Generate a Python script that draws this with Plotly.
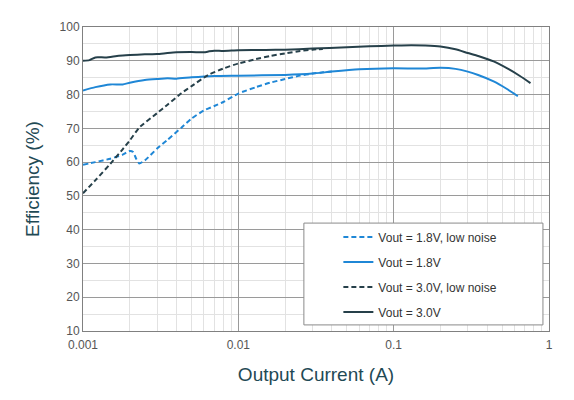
import plotly.graph_objects as go

# Efficiency vs output current
I_30 = [0.001, 0.0011, 0.0012, 0.0014, 0.0017, 0.002, 0.0025, 0.003, 0.0035, 0.004, 0.005,
        0.006, 0.0065, 0.007, 0.008, 0.01, 0.015, 0.02, 0.03, 0.05, 0.07, 0.1, 0.13, 0.16,
        0.2, 0.25, 0.3, 0.35, 0.44, 0.55, 0.65, 0.76]
EFF_30 = [90.0, 90.2, 91.0, 91.0, 91.5, 91.7, 91.9, 92.0, 92.3, 92.5, 92.6,
          92.5, 92.8, 93.0, 92.9, 93.1, 93.2, 93.3, 93.6, 94.0, 94.3, 94.5, 94.6, 94.5,
          94.2, 93.4, 92.3, 91.4, 89.8, 87.5, 85.5, 83.4]

I_18 = [0.001, 0.0012, 0.0015, 0.0018, 0.002, 0.0025, 0.003, 0.0035, 0.004, 0.005, 0.007,
        0.01, 0.02, 0.03, 0.04, 0.06, 0.1, 0.15, 0.2, 0.25, 0.3, 0.35, 0.44, 0.53, 0.63]
EFF_18 = [81.2, 82.2, 83.0, 83.0, 83.5, 84.3, 84.6, 84.8, 84.7, 85.1, 85.5,
          85.6, 85.8, 86.2, 86.8, 87.5, 87.8, 87.7, 87.9, 87.6, 86.8, 85.8, 83.9, 81.8, 79.5]

I_18_LN = [0.001, 0.0012, 0.0015, 0.0018, 0.002, 0.0021, 0.0022, 0.0023, 0.0025, 0.003,
           0.0035, 0.0043, 0.005, 0.006, 0.007, 0.008, 0.01, 0.013, 0.016, 0.02, 0.025,
           0.03, 0.035, 0.04]
EFF_18_LN = [59.2, 60.0, 61.0, 62.2, 63.3, 63.0, 61.0, 59.6, 60.5, 64.0,
             66.6, 70.2, 72.9, 75.3, 76.6, 77.8, 80.3, 82.2, 83.5, 84.6, 85.6,
             86.2, 86.6, 86.8]

I_30_LN = [0.001, 0.0012, 0.0015, 0.0018, 0.002, 0.0023, 0.003, 0.0035, 0.0043, 0.005,
           0.0064, 0.008, 0.01, 0.013, 0.016, 0.02, 0.025, 0.03, 0.035]
EFF_30_LN = [50.8, 54.6, 59.5, 63.8, 66.4, 70.2, 74.5, 77.0, 80.4, 82.5,
             85.8, 87.7, 89.2, 90.5, 91.4, 92.2, 92.9, 93.3, 93.5]

X_TICKS = [0.001, 0.01, 0.1, 1]
X_TICK_TEXT = ["0.001", "0.01", "0.1", "1"]

BLUE = "#1f87d6"
DARK = "#26404a"
TEXT = "#1f4a55"
FONT = "Arial, Liberation Sans, sans-serif"

fig = go.Figure()
series = [
    ("Vout = 1.8V, low noise", I_18_LN, EFF_18_LN, BLUE, "5px,3px"),
    ("Vout = 1.8V", I_18, EFF_18, BLUE, "solid"),
    ("Vout = 3.0V, low noise", I_30_LN, EFF_30_LN, DARK, "5px,3px"),
    ("Vout = 3.0V", I_30, EFF_30, DARK, "solid"),
]
for name, x, y, color, dash in series:
    fig.add_trace(go.Scatter(x=x, y=y, name=name, mode="lines", legendgroup=name,
                             line=dict(color=color, width=2, dash=dash,
                                       shape="spline", smoothing=0.5)))

minor_x = [m * 10 ** d for d in (-3, -2, -1) for m in range(2, 10)]

# page has an ~7px body margin, so the margins are trimmed to land the plot where the reference has it
fig.update_layout(
    width=574, height=400,
    margin=dict(l=75, r=33, t=16, b=77),
    paper_bgcolor="white", plot_bgcolor="white",
    font=dict(family=FONT, color="#555555", size=12),
    showlegend=True,
    legend=dict(x=0.548, y=0.357, xanchor="left", yanchor="top",
                bgcolor="rgba(0,0,0,0)", borderwidth=0, tracegroupgap=6,
                font=dict(size=12, color="#333333")),
    shapes=[dict(type="rect", xref="paper", yref="paper",
                 x0=0.474, x1=0.987, y0=0.02, y1=0.355,
                 fillcolor="white", line=dict(color="#8a8a8a", width=1), layer="above")],
)
fig.update_xaxes(
    type="log", range=[-3, 0],
    tickvals=X_TICKS, ticktext=X_TICK_TEXT, ticklabelstandoff=3,
    showgrid=True, gridcolor="#9a9a9a", gridwidth=1,
    minor=dict(tickvals=minor_x, showgrid=True, gridcolor="#e2e2e2", ticks=""),
    showline=True, linecolor="#808080", mirror=True, ticks="",
    title=dict(text="Output Current (A)", font=dict(size=19, color=TEXT), standoff=16),
    zeroline=False,
)
fig.update_yaxes(
    range=[10, 100], dtick=10,
    showgrid=True, gridcolor="#9a9a9a", gridwidth=1,
    minor=dict(dtick=5, showgrid=True, gridcolor="#e2e2e2", ticks=""),
    showline=True, linecolor="#808080", mirror=True, ticks="",
    title=dict(text="Efficiency (%)", font=dict(size=19, color=TEXT), standoff=14),
    zeroline=False,
)

fig.write_html("out.html")
